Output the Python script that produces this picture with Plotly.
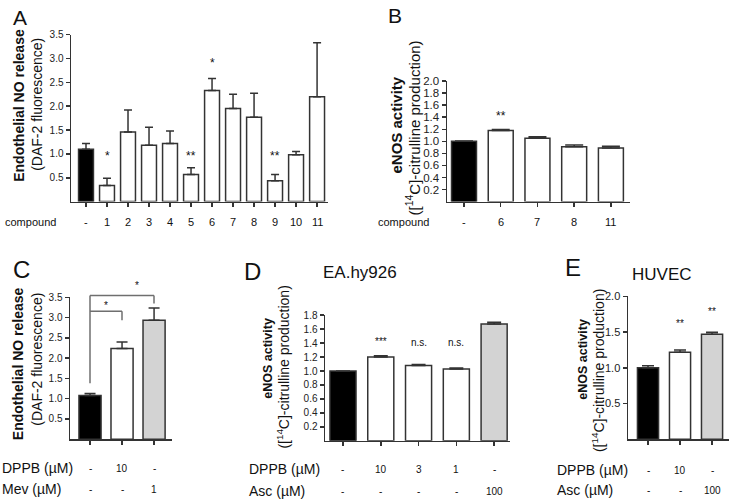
import plotly.graph_objects as go

FONT = "Liberation Sans, Arial, sans-serif"
W, H = 729, 500
AX = "#333333"
BLACK, WHITE, GRAY = "#000000", "#ffffff", "#d3d3d3"

# ---------------- data ----------------
a_labels = ["-", "1", "2", "3", "4", "5", "6", "7", "8", "9", "10", "11"]
a_means = [1.10, 0.34, 1.46, 1.18, 1.22, 0.57, 2.33, 1.95, 1.77, 0.44, 0.98, 2.20]
a_sem = [0.12, 0.15, 0.46, 0.38, 0.26, 0.14, 0.25, 0.30, 0.50, 0.13, 0.07, 1.13]
a_sig = ["", "*", "", "", "", "**", "*", "", "", "**", "", ""]
a_sig_level = [0, 0.91, 0, 0, 0, 0.91, 2.87, 0, 0, 0.91, 0, 0]
a_yticks = [0.5, 1.0, 1.5, 2.0, 2.5, 3.0, 3.5]

b_labels = ["-", "6", "7", "8", "11"]
b_means = [1.00, 1.18, 1.05, 0.91, 0.89]
b_sem = [0.005, 0.015, 0.025, 0.03, 0.03]
b_sig = ["", "**", "", "", ""]
b_sig_level = [0, 1.38, 0, 0, 0]
b_yticks = [0.2, 0.4, 0.6, 0.8, 1.0, 1.2, 1.4, 1.6, 1.8, 2.0]

c_dppb = ["-", "10", "-"]
c_mev = ["-", "-", "1"]
c_means = [1.08, 2.24, 2.94]
c_sem = [0.05, 0.16, 0.30]
c_yticks = [0.5, 1.0, 1.5, 2.0, 2.5, 3.0, 3.5]

d_dppb = ["-", "10", "3", "1", "-"]
d_asc = ["-", "-", "-", "-", "100"]
d_means = [1.00, 1.20, 1.08, 1.03, 1.675]
d_sem = [0.0, 0.02, 0.012, 0.012, 0.025]
d_sig = ["", "***", "n.s.", "n.s.", "**"]
d_sig_level = [0, 1.39, 1.39, 1.39, 1.90]
d_yticks = [0.2, 0.4, 0.6, 0.8, 1.0, 1.2, 1.4, 1.6, 1.8]

e_dppb = ["-", "10", "-"]
e_asc = ["-", "-", "100"]
e_means = [1.00, 1.22, 1.47]
e_sem = [0.03, 0.03, 0.03]
e_sig = ["", "**", "**"]
e_sig_level = [0, 1.60, 1.76]
e_yticks = [0.5, 1.0, 1.5, 2.0]

a_colors = [BLACK] + [WHITE] * 11
b_colors = [BLACK] + [WHITE] * 4
c_colors = [BLACK, WHITE, GRAY]
d_colors = [BLACK, WHITE, WHITE, WHITE, GRAY]
e_colors = [BLACK, WHITE, GRAY]


def px(x):
    return x / W


def py(y):
    return 1 - y / H


fig = go.Figure()
annotations = []
shapes = []

panels = [
    # means, sem, colors, xdom(px), ydom(px: bottom, top), xrange, ymax, yticks, barwidth, cap, tickfont
    (a_means, a_sem, a_colors, (71, 328), (198, 29), (-0.714, 11.52), 3.5, a_yticks, 0.71, 4, 10),
    (b_means, b_sem, b_colors, (447, 630), (198, 76), (-0.463, 4.52), 2.0, b_yticks, 0.68, 9, 11.5),
    (c_means, c_sem, c_colors, (70, 172), (438.5, 295), (-0.625, 2.56), 3.5, c_yticks, 0.69, 5.5, 10),
    (d_means, d_sem, d_colors, (325, 510), (440, 313), (-0.476, 4.42), 1.8, d_yticks, 0.69, 7, 10),
    (e_means, e_sem, e_colors, (628, 729), (438.5, 294), (-0.625, 2.53), 2.0, e_yticks, 0.66, 6, 11),
]

layout_axes = {}
for i, (m, s, col, xd, yd, xr, ymax, yt, bw, cap, tf) in enumerate(panels, start=1):
    xa = "x" if i == 1 else f"x{i}"
    ya = "y" if i == 1 else f"y{i}"
    n = len(m)
    fig.add_trace(go.Bar(
        x=list(range(n)), y=m, width=bw, xaxis=xa, yaxis=ya,
        marker=dict(color=col, line=dict(color=AX, width=1.5)),
        error_y=dict(type="data", array=s, arrayminus=[0] * n, symmetric=False,
                     color=AX, thickness=1.5, width=cap),
        showlegend=False, hoverinfo="skip",
    ))
    key = "" if i == 1 else str(i)
    layout_axes["xaxis" + key] = dict(
        domain=[px(xd[0]), px(xd[1])], range=list(xr), anchor=ya,
        showline=True, linecolor=AX, linewidth=1.5, ticks="outside", ticklen=4,
        tickcolor=AX, tickwidth=1.5, tickvals=list(range(n)), showticklabels=False,
        showgrid=False, zeroline=False, fixedrange=True,
    )
    layout_axes["yaxis" + key] = dict(
        domain=[py(yd[0]), py(yd[1])], range=[0, ymax], anchor=xa,
        showline=True, linecolor=AX, linewidth=1.5, ticks="outside", ticklen=4,
        tickcolor=AX, tickwidth=1.5, tickvals=yt, ticktext=[f"{v:.1f}" for v in yt],
        tickfont=dict(family=FONT, size=tf, color="#222"),
        showgrid=False, zeroline=False, fixedrange=True,
    )


def txt(x, y, text, size, xref="paper", yref="paper", xanchor="center",
        yanchor="middle", angle=0, yshift=0, color="#111"):
    annotations.append(dict(
        x=x, y=y, xref=xref, yref=yref, text=text, showarrow=False,
        xanchor=xanchor, yanchor=yanchor, textangle=angle, yshift=yshift,
        font=dict(family=FONT, size=size, color=color),
    ))


# category labels
for i, lab in enumerate(a_labels):
    txt(i, py(219), lab, 11, xref="x")
for i, lab in enumerate(b_labels):
    txt(i, py(219), lab, 11, xref="x2")
txt(px(3), py(219), "compound", 11, xanchor="left")
txt(px(431), py(219), "compound", 11, xanchor="right")

for i, (p, q) in enumerate(zip(c_dppb, c_mev)):
    txt(i, py(468), p, 10, xref="x3")
    txt(i, py(489), q, 10, xref="x3")
txt(px(0), py(468), "DPPB (µM)", 14, xanchor="left")
txt(px(0), py(489), "Mev (µM)", 14, xanchor="left")

for i, (p, q) in enumerate(zip(d_dppb, d_asc)):
    txt(i, py(469), p, 10, xref="x4")
    txt(i, py(491), q, 10, xref="x4")
txt(px(247), py(469), "DPPB (µM)", 14, xanchor="left")
txt(px(247), py(491), "Asc (µM)", 14, xanchor="left")

for i, (p, q) in enumerate(zip(e_dppb, e_asc)):
    txt(i, py(470), p, 10, xref="x5")
    txt(i, py(490), q, 10, xref="x5")
txt(px(555), py(470), "DPPB (µM)", 14, xanchor="left")
txt(px(555), py(490), "Asc (µM)", 14, xanchor="left")

# significance marks
STAR_SHIFT = 2
for i, (sg, lv) in enumerate(zip(a_sig, a_sig_level)):
    if sg:
        txt(i, lv, sg, 12, xref="x", yref="y", yshift=STAR_SHIFT)
for i, (sg, lv) in enumerate(zip(b_sig, b_sig_level)):
    if sg:
        txt(i, lv, sg, 12, xref="x2", yref="y2", yshift=STAR_SHIFT)
for i, (sg, lv) in enumerate(zip(d_sig, d_sig_level)):
    if sg:
        txt(i, lv, sg, 10, xref="x4", yref="y4", yshift=(STAR_SHIFT if "*" in sg else 1))
for i, (sg, lv) in enumerate(zip(e_sig, e_sig_level)):
    if sg:
        txt(i, lv, sg, 10, xref="x5", yref="y5", yshift=STAR_SHIFT)

# brackets in panel C (levels in axis units, mapped to paper)
c_y0, c_y1 = py(438.5), py(295)


def cy(v):
    return c_y0 + v / 3.5 * (c_y1 - c_y0)


def cx(i):
    return px(90 + 32 * i)


BR = "#6f6f6f"
for (x0, y0, x1, y1) in [(0, 1.38, 0, 3.55), (0, 3.55, 2, 3.55), (2, 3.55, 2, 3.35),
                         (0, 3.16, 1, 3.16), (1, 3.16, 1, 2.94)]:
    shapes.append(dict(type="line", xref="paper", yref="paper",
                       x0=cx(x0), x1=cx(x1), y0=cy(y0), y1=cy(y1),
                       line=dict(color=BR, width=1.5)))
txt(cx(0.5), cy(3.24), "*", 10, yshift=STAR_SHIFT)
txt(cx(1.47), cy(3.74), "*", 10, yshift=STAR_SHIFT)

# axis titles (rotated)
txt(px(19), py(101), "<b>Endothelial NO release</b>", 14, angle=-90)
txt(px(37), py(100), "(DAF-2 fluorescence)", 14, angle=-90)
txt(px(17.5), py(362), "<b>Endothelial NO release</b>", 14, angle=-90)
txt(px(37), py(358), "(DAF-2 fluorescence)", 14, angle=-90)
txt(px(397), py(121), "<b>eNOS activity</b>", 15, angle=-90)
txt(px(413), py(124), "([<sup>14</sup>C]-citrulline production)", 15, angle=-90)
txt(px(268), py(357), "<b>eNOS activity</b>", 12.5, angle=-90)
txt(px(283), py(366), "([<sup>14</sup>C]-citrulline production)", 14, angle=-90)
txt(px(583), py(358), "<b>eNOS activity</b>", 12.5, angle=-90)
txt(px(597.5), py(369), "([<sup>14</sup>C]-citrulline production)", 14, angle=-90)

# panel letters and titles
txt(px(20), py(11.5), "A", 21)
txt(px(395), py(10), "B", 21)
txt(px(21), py(267), "C", 24)
txt(px(252), py(269), "D", 24)
txt(px(573), py(265), "E", 24)
txt(px(360), py(270), "EA.hy926", 17)
txt(px(662), py(271.5), "HUVEC", 17)

fig.update_layout(
    width=W, height=H, margin=dict(l=0, r=0, t=0, b=0),
    paper_bgcolor="white", plot_bgcolor="white",
    annotations=annotations, shapes=shapes,
    font=dict(family=FONT, color="#111"),
    **layout_axes,
)

fig.write_html(
    "out.html",
    config={"displayModeBar": False, "staticPlot": True},
    post_script="document.body.style.margin='0';document.body.style.padding='0';"
                "document.documentElement.style.overflow='hidden';",
)
